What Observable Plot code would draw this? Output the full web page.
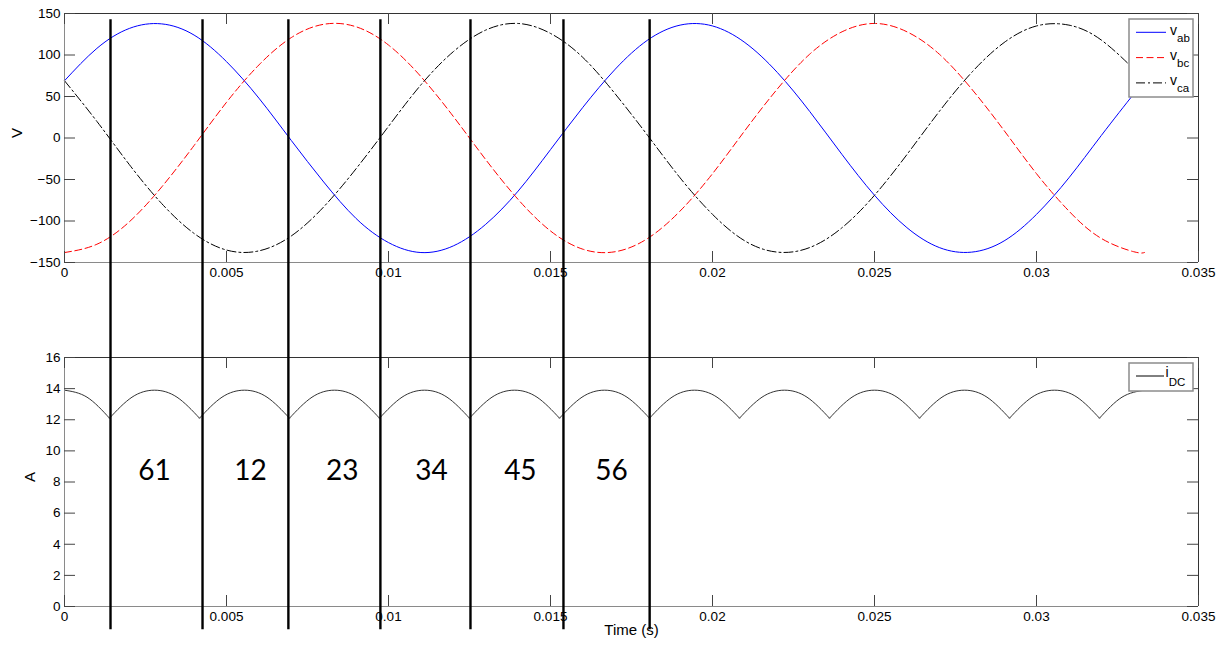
<!DOCTYPE html>
<html>
<head>
<meta charset="utf-8">
<script src="https://cdn.jsdelivr.net/npm/d3@7"></script>
<script src="https://cdn.jsdelivr.net/npm/@observablehq/plot@0.6"></script>
<style>
  body { margin: 0; background: #fff; }
  #wrap { position: relative; width: 1225px; height: 649px; overflow: hidden; background: #fff;
          font-family: "Liberation Sans", Arial, sans-serif; }
  #wrap > svg { position: absolute; left: 0; top: 0; }
</style>
</head>
<body>
<div id="wrap"></div>
<script>
// ---------- data ----------
const timeTicks = [0, 0.005, 0.01, 0.015, 0.02, 0.025, 0.03, 0.035];
const voltTicks = [-150, -100, -50, 0, 50, 100, 150];
const currTicks = [0, 2, 4, 6, 8, 10, 12, 14, 16];

const vTime = [0, 0.001, 0.002, 0.003, 0.004, 0.005, 0.006, 0.007, 0.008, 0.009,
  0.010, 0.011, 0.012, 0.013, 0.014, 0.015, 0.016, 0.017, 0.018, 0.019,
  0.020, 0.021, 0.022, 0.023, 0.024, 0.025, 0.026, 0.027, 0.028, 0.029,
  0.030, 0.031, 0.032, 0.033, 0.03333];
const vab = [69, 108, 132, 137.5, 124, 92, 48, -3, -53, -97, -126, -138, -130, -104, -64, -14,
  37, 83, 118, 136, 135, 115, 79, 32, -20, -69, -108, -132, -137.5, -124, -92, -48, 3, 53, 69];
const vbc = [-138, -128, -101, -59, -9, 43, 88, 121, 137, 134, 112, 74, 26, -26, -74, -112,
  -134, -137, -121, -88, -43, 9, 59, 101, 128, 138, 128, 101, 59, 9, -43, -88, -121, -137, -138];
const vca = [69, 20, -32, -79, -115, -135, -136, -118, -83, -37, 14, 64, 104, 130, 138, 126,
  97, 53, 3, -48, -92, -124, -137.5, -132, -108, -69, -20, 32, 79, 115, 135, 136, 118, 83, 69];

const iTime = [0, 0.000694, 0.001389, 0.002083, 0.002778, 0.003472, 0.004167, 0.004861,
  0.005556, 0.00625, 0.006944, 0.007639, 0.008333, 0.009028, 0.009722, 0.010417,
  0.011111, 0.011806, 0.0125, 0.013194, 0.013889, 0.014583, 0.015278, 0.015972,
  0.016667, 0.017361, 0.018056, 0.01875, 0.019444, 0.020139, 0.020833, 0.021528,
  0.022222, 0.022917, 0.023611, 0.024306, 0.025, 0.025694, 0.026389, 0.027083,
  0.027778, 0.028472, 0.029167, 0.029861, 0.030556, 0.03125, 0.031944, 0.032639, 0.033333];
const iDC = [13.9, 13.45, 12.1, 13.45, 13.9, 13.45, 12.1, 13.45,
  13.9, 13.45, 12.1, 13.45, 13.9, 13.45, 12.1, 13.45,
  13.9, 13.45, 12.1, 13.45, 13.9, 13.45, 12.1, 13.45,
  13.9, 13.45, 12.1, 13.45, 13.9, 13.45, 12.1, 13.45,
  13.9, 13.45, 12.1, 13.45, 13.9, 13.45, 12.1, 13.45,
  13.9, 13.45, 12.1, 13.45, 13.9, 13.45, 12.1, 13.45, 13.9];

const boundaryTimes = [0.00142, 0.00426, 0.00691, 0.00975, 0.01253, 0.0154, 0.01806];
const boundarySpan = [37.7, -1.5];           // in A, reaching up through the top panel
const intervalLabels = ["61", "12", "23", "34", "45", "56"];
const intervalTimes = [0.00278, 0.00574, 0.00857, 0.01133, 0.01407, 0.01688];
const intervalLevel = 8.7;

const voltSeries = ["ab", "bc", "ca"];
const voltColors = ["#0000ff", "#ff0000", "#000000"];
const voltDash = [null, "7,3.5", "9,3,2,3"];
const currSeries = ["DC"];

// ---------- layout ----------
const W = 1225, H = 649;
const fL = 64, fR = 1198;
const fw = fR - fL;
const font = '"Liberation Sans", Arial, sans-serif';
const fmt = d => d === 0 ? "0" : d3.format("~g")(d);
const wrap = document.getElementById("wrap");

function frameMarks(xT, yT, fh) {
  return [
    Plot.ruleX([0.035], {stroke: "#333", strokeWidth: 1}),
    Plot.ruleX([0], {stroke: "#8a8a8a", strokeWidth: 1}),
    Plot.tickX(xT, {x: d => d, insetBottom: fh - 11, stroke: "#444"}),
    Plot.tickX(xT, {x: d => d, insetTop: fh - 11, stroke: "#444"}),
    Plot.tickY(yT, {y: d => d, insetRight: fw - 11, stroke: "#444"}),
    Plot.tickY(yT, {y: d => d, insetLeft: fw - 11, stroke: "#444"}),
    Plot.axisX(xT, {tickSize: 0, tickPadding: 5, tickFormat: fmt, label: null}),
    Plot.axisY(yT, {tickSize: 0, tickPadding: 4, label: null})
  ];
}

// ---------- top panel (voltages) ----------
const vData = [vab, vbc, vca];
const vRows = voltSeries.flatMap((s, k) => vTime.map((t, i) => ({t, v: vData[k][i], s})));
const topH = 300, topMT = 13, topMB = 38;
const topPlot = Plot.plot({
  width: W, height: topH,
  marginLeft: fL, marginRight: W - fR, marginTop: topMT, marginBottom: topMB,
  x: {domain: [0, 0.035]},
  y: {domain: [-150, 150]},
  style: {background: "transparent", overflow: "visible", fontFamily: font, fontSize: "13.5px", color: "#000"},
  marks: [
    ...voltSeries.map((s, k) => Plot.line(vRows.filter(d => d.s === s), {
      x: "t", y: "v", stroke: voltColors[k], strokeWidth: 1, strokeDasharray: voltDash[k], curve: "natural"
    })),
    Plot.ruleY([150], {stroke: "#333"}),
    Plot.ruleY([-150], {stroke: "#8a8a8a"}),
    ...frameMarks(timeTicks, voltTicks, topH - topMT - topMB),
    Plot.text(["V"], {frameAnchor: "left", dx: -47, rotate: -90, fontSize: 15})
  ]
});
wrap.appendChild(topPlot);

// ---------- bottom panel (current) ----------
const iRows = [];
iTime.forEach((t, n) => {
  if (n % 4 === 2) {
    iRows.push({t, a: iDC[n], arc: (n - 2) / 4});
    iRows.push({t, a: iDC[n], arc: (n + 2) / 4});
  } else {
    iRows.push({t, a: iDC[n], arc: Math.round(n / 4)});
  }
});
iRows.sort((p, q) => p.arc - q.arc || p.t - q.t);
const botMT = 357, botMB = 43;
const botPlot = Plot.plot({
  width: W, height: H,
  marginLeft: fL, marginRight: W - fR, marginTop: botMT, marginBottom: botMB,
  x: {domain: [0, 0.035]},
  y: {domain: [0, 16]},
  style: {background: "transparent", overflow: "visible", fontFamily: font, fontSize: "13.5px", color: "#000"},
  marks: [
    Plot.line(iRows, {x: "t", y: "a", z: "arc", stroke: "#333", strokeWidth: 1, curve: "natural"}),
    Plot.ruleY([16], {stroke: "#333"}),
    Plot.ruleY([0], {stroke: "#8a8a8a"}),
    ...frameMarks(timeTicks, currTicks, H - botMT - botMB),
    Plot.text(["A"], {frameAnchor: "left", dx: -34, rotate: -90, fontSize: 15}),
    Plot.text(["Time (s)"], {frameAnchor: "bottom", dy: 28, fontSize: 15}),
    Plot.ruleX(boundaryTimes, {x: d => d, y1: boundarySpan[0], y2: boundarySpan[1], stroke: "#000", strokeWidth: 2.4}),
    Plot.text(intervalLabels, {x: (d, i) => intervalTimes[i], y: intervalLevel, text: d => d,
      fontSize: 28, fontFamily: "Lato, 'Open Sans', sans-serif", fill: "#000"})
  ]
});
wrap.appendChild(botPlot);

// ---------- legends ----------
function legend(left, top, w, h, rows) {
  const svg = d3.create("svg").attr("width", w + 2).attr("height", h + 2)
    .style("position", "absolute").style("left", (left - 1) + "px").style("top", (top - 1) + "px")
    .style("font-family", font);
  svg.append("rect").attr("x", 1).attr("y", 1).attr("width", w).attr("height", h)
    .attr("fill", "#fff").attr("stroke", "#8c8c8c").attr("stroke-width", 1.5);
  rows.forEach(r => {
    svg.append("line").attr("x1", 8).attr("x2", r.x2).attr("y1", r.ly).attr("y2", r.ly)
      .attr("stroke", r.color).attr("stroke-width", 1).attr("stroke-dasharray", r.dash);
    const t = svg.append("text").attr("x", r.tx).attr("y", r.by).attr("fill", "#000");
    t.append("tspan").attr("font-size", r.fs).text(r.main);
    t.append("tspan").attr("font-size", 11.5).attr("dy", r.subdy).text(r.sub);
  });
  wrap.appendChild(svg.node());
}
legend(1129, 19, 64, 78, voltSeries.map((s, k) => ({
  color: voltColors[k], dash: voltDash[k], ly: 14.3 + 25.3 * k, x2: 38, tx: 42, by: 17 + 25 * k,
  fs: 14, main: "v", sub: s, subdy: 6.7
})));
legend(1129, 363, 64, 28, currSeries.map(s => ({
  color: "#000", dash: null, ly: 14, x2: 36, tx: 37.5, by: 15, fs: 14, main: "i", sub: s, subdy: 9
})));
</script>
</body>
</html>
